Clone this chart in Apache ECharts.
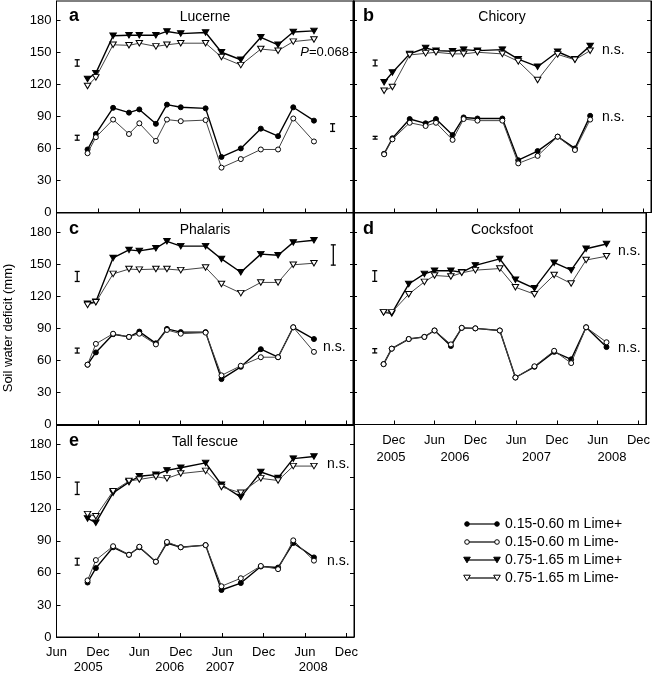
<!DOCTYPE html>
<html><head><meta charset="utf-8">
<script src="https://cdn.jsdelivr.net/npm/echarts@6/dist/echarts.min.js"></script>
<style>html,body{margin:0;padding:0;background:#fff}#c{width:653px;height:674px}</style>
</head><body><div id="c"></div>
<script>
const FONT = '"Liberation Sans", Arial, Helvetica, sans-serif';
// sampling dates, in months after 1 June 2005
const dates = [4.5, 5.7, 8.2, 10.5, 12.0, 14.4, 16.0, 18.0, 21.6, 23.9, 26.7, 29.6, 32.1, 34.3, 37.3];
const seriesNames = ['0.15-0.60 m Lime+', '0.15-0.60 m Lime-', '0.75-1.65 m Lime+', '0.75-1.65 m Lime-'];
const panelNames = ['Lucerne', 'Chicory', 'Phalaris', 'Cocksfoot', 'Tall fescue'];
const panelLetters = ['a', 'b', 'c', 'd', 'e'];

const lucerneShallowPlus  = [59, 73.5, 98, 93.5, 96.5, 83, 101, 98.5, 97.5, 52, 60, 78.5, 71.5, 98.5, 86];
const lucerneShallowMinus = [55.5, 70.5, 87, 73.5, 83.5, 67, 87, 85.5, 86.5, 42, 50, 59, 59, 88, 66.5];
const lucerneDeepPlus     = [125, 130.5, 165.5, 166, 166, 166, 169.5, 167.5, 168.5, 150, 143, 164, 157, 169, 170];
const lucerneDeepMinus    = [118.5, 126.5, 157, 156.5, 158.5, 155.5, 157, 158.5, 158.5, 145.5, 138, 153, 151.5, 160, 162];

const chicoryShallowPlus  = [55, 69.5, 87.5, 83.5, 87.5, 72.5, 89, 88, 88, 49, 57.5, 71, 60, 90.5];
const chicoryShallowMinus = [54.5, 68.5, 84, 81, 84, 68, 87.5, 86, 86, 46, 53, 71, 58.5, 87];
const chicoryDeepPlus     = [122, 131, 148.5, 154, 151.5, 151, 152.5, 151.5, 152.5, 143.5, 136.5, 150.5, 143.5, 156];
const chicoryDeepMinus    = [114, 117.5, 147.5, 149, 150, 148.5, 148.5, 150, 148.5, 141.5, 124, 148, 143, 151.5];

const phalarisShallowPlus  = [56, 67.5, 84.5, 82, 87, 76, 89.5, 86.5, 86.5, 42.5, 54, 70.5, 63, 91, 80];
const phalarisShallowMinus = [56, 75.5, 85, 82, 85, 75, 88.5, 85, 86, 46, 55, 63, 63, 91, 68];
const phalarisDeepPlus     = [113, 115, 156, 163.5, 162.5, 165, 171.5, 167, 167, 155, 142.5, 159.5, 158.5, 170.5, 172.5];
const phalarisDeepMinus    = [112, 114.5, 141, 145.5, 145, 145.5, 145.5, 144.5, 147, 131.5, 123, 133, 133, 149.5, 151];

const cocksfootShallowPlus  = [56.5, 71, 80, 82, 88, 73.5, 90.5, 90, 88, 44, 54, 68, 61, 91, 72.5];
const cocksfootShallowMinus = [56.5, 71, 80, 82, 88, 75, 90.5, 90, 88, 44, 54.5, 69, 57.5, 91, 77];
const cocksfootDeepPlus     = [105, 104, 131.5, 141, 144, 144, 142.5, 149, 155, 135.5, 127.5, 151.5, 144.5, 164.5, 169];
const cocksfootDeepMinus    = [105, 105, 122, 133.5, 139.5, 138.5, 142, 144.5, 146, 128.5, 122, 140, 132, 154, 157.5];

const fescueShallowPlus  = [51, 64.5, 84, 77, 84, 70.5, 88, 84, 86, 44, 50.5, 66, 65, 88, 74.5];
const fescueShallowMinus = [53, 72, 85, 77, 84.5, 70.5, 89, 84, 86, 47.5, 55, 66.5, 63.5, 90.5, 71.5];
const fescueDeepPlus     = [111, 107, 135, 145, 150.5, 152, 156, 158.5, 163, 142.5, 131, 154.5, 149, 167, 169];
const fescueDeepMinus    = [115, 113, 136.5, 146, 147.5, 150, 148.5, 153, 155.5, 140.5, 135, 148.5, 146.5, 160, 160];

// LSD bars: [month, centre, half-length]
const lucerneLSD   = [[3.0, 140, 3], [3.0, 70, 2.3], [40.0, 79.5, 3.6]];
const chicoryLSD   = [[3.2, 140, 2.7], [3.2, 70, 1.3]];
const phalarisLSD  = [[3.0, 138.6, 4.7], [3.0, 69.2, 2.3], [40.1, 158.7, 9.5]];
const cocksfootLSD = [[3.2, 139, 5], [3.2, 69, 2]];
const fescueLSD    = [[3.0, 139.2, 5.8], [3.0, 70.5, 3.2]];

const tickMonths = [0, 6, 12, 18, 24, 30, 36, 42];
const tickLabels = ['Jun', 'Dec', 'Jun', 'Dec', 'Jun', 'Dec', 'Jun', 'Dec'];
const yTicks = [0, 30, 60, 90, 120, 150, 180];
const yearLabels = ['2005', '2006', '2007', '2008'];
const yearPosD = [5.6, 15.0, 27.0, 38.1];
const yearPosE = [4.6, 16.4, 23.7, 37.2];

const panelData = [
  [lucerneShallowPlus, lucerneShallowMinus, lucerneDeepPlus, lucerneDeepMinus],
  [chicoryShallowPlus, chicoryShallowMinus, chicoryDeepPlus, chicoryDeepMinus],
  [phalarisShallowPlus, phalarisShallowMinus, phalarisDeepPlus, phalarisDeepMinus],
  [cocksfootShallowPlus, cocksfootShallowMinus, cocksfootDeepPlus, cocksfootDeepMinus],
  [fescueShallowPlus, fescueShallowMinus, fescueDeepPlus, fescueDeepMinus]
];
const panelLSD = [lucerneLSD, chicoryLSD, phalarisLSD, cocksfootLSD, fescueLSD];

const XMAX = 43.1, YMAX = 198;
const grids = [
  {left: 56.5, top: 1, width: 297.5, height: 211.5},
  {left: 353, top: 1, width: 298, height: 211.5},
  {left: 56.5, top: 213, width: 297.5, height: 211.5},
  {left: 353, top: 213, width: 298, height: 211.5},
  {left: 56.5, top: 425.5, width: 297.5, height: 211.5}
].map(g => Object.assign({show: true, borderColor: '#000', borderWidth: 1, backgroundColor: 'transparent'}, g));

function nearestIdx(arr, v) { let b = 0; arr.forEach((a, i) => { if (Math.abs(a - v) < Math.abs(arr[b] - v)) b = i; }); return b; }

const xAxis = [], yAxis = [], series = [];
for (let i = 0; i < 5; i++) {
  const showX = (i >= 3);
  xAxis.push({
    gridIndex: i, type: 'value', min: 0, max: XMAX,
    axisLine: {show: true, onZero: false, lineStyle: {color: '#000', width: 1}},
    axisTick: {show: true, inside: true, length: 4, customValues: tickMonths, lineStyle: {color: '#000'}},
    axisLabel: {show: showX, customValues: i === 3 ? tickMonths.slice(1) : tickMonths, margin: 9,
      fontFamily: FONT, fontSize: 13, color: '#000', showMinLabel: true, showMaxLabel: true,
      formatter: v => tickLabels[nearestIdx(tickMonths, v)]},
    splitLine: {show: false}
  });
}
for (let i = 0; i < 5; i++) {
  yAxis.push({
    gridIndex: i, type: 'value', min: 0, max: YMAX, position: 'left',
    axisLine: {show: true, onZero: false, lineStyle: {color: '#000'}},
    axisTick: {show: true, inside: true, length: 4, customValues: yTicks, lineStyle: {color: '#000'}},
    axisLabel: {show: (i % 2 === 0), customValues: yTicks, margin: 5, fontFamily: FONT, fontSize: 13, color: '#000'},
    splitLine: {show: false}
  });
}
for (let i = 0; i < 5; i++) {
  yAxis.push({
    gridIndex: i, type: 'value', min: 0, max: YMAX, position: 'right',
    axisLine: {show: true, onZero: false, lineStyle: {color: '#000'}},
    axisTick: {show: true, inside: true, length: 4, customValues: yTicks, lineStyle: {color: '#000'}},
    axisLabel: {show: false}, splitLine: {show: false}
  });
}
// year label axes
[[3, yearPosD, 17], [4, yearPosE, 15]].forEach(([gi, pos, off]) => {
  xAxis.push({
    gridIndex: gi, type: 'value', min: 0, max: XMAX, position: 'bottom', offset: off,
    axisLine: {show: false}, axisTick: {show: false}, splitLine: {show: false},
    axisLabel: {show: true, customValues: pos, margin: 9, fontFamily: FONT, fontSize: 13, color: '#000',
      formatter: v => yearLabels[nearestIdx(pos, v)]}
  });
});

const styles = [
  {symbol: 'circle', symbolSize: 5, symbolRotate: 0, fill: '#000', lw: 1.4, lc: '#000', z: 3},
  {symbol: 'circle', symbolSize: 5, symbolRotate: 0, fill: '#fff', lw: 1, lc: '#444', z: 4},
  {symbol: 'triangle', symbolSize: [6.5, 5.5], symbolRotate: 180, fill: '#000', lw: 1.4, lc: '#000', z: 3},
  {symbol: 'triangle', symbolSize: [6.5, 5.5], symbolRotate: 180, fill: '#fff', lw: 1, lc: '#444', z: 4}
];

for (let i = 0; i < 5; i++) {
  panelData[i].forEach((vals, s) => {
    const st = styles[s];
    series.push({
      type: 'line', name: seriesNames[s], xAxisIndex: i, yAxisIndex: i,
      data: vals.map((v, k) => [dates[k], v]),
      symbol: st.symbol, symbolSize: st.symbolSize, symbolRotate: st.symbolRotate, showAllSymbol: true,
      itemStyle: {color: st.fill, borderColor: '#000', borderWidth: 1},
      lineStyle: {color: st.lc, width: st.lw}, z: st.z, silent: true
    });
  });
  series.push({
    type: 'custom', xAxisIndex: i, yAxisIndex: i, data: panelLSD[i], z: 5, silent: true,
    renderItem: (params, api) => {
      const x = api.value(0), c = api.value(1), h = api.value(2);
      const t = api.coord([x, c + h]), b = api.coord([x, c - h]);
      const w = 2.5, ls = {stroke: '#000', lineWidth: 1.3};
      return {type: 'group', children: [
        {type: 'line', shape: {x1: t[0], y1: t[1], x2: b[0], y2: b[1]}, style: ls},
        {type: 'line', shape: {x1: t[0] - w, y1: t[1], x2: t[0] + w, y2: t[1]}, style: ls},
        {type: 'line', shape: {x1: b[0] - w, y1: b[1], x2: b[0] + w, y2: b[1]}, style: ls}
      ]};
    }
  });
}

const graphic = [];
const letterPos = [[69, 16], [363, 16], [69, 229], [363, 229], [69, 441]];
const titlePos = [[205, 17], [502, 17], [205, 230], [502, 230], [205, 442]];
for (let i = 0; i < 5; i++) {
  graphic.push({type: 'text', x: letterPos[i][0], y: letterPos[i][1], z: 10,
    style: {text: panelLetters[i], font: 'bold 18px ' + FONT, fill: '#000', textAlign: 'left', textVerticalAlign: 'middle'}});
  graphic.push({type: 'text', x: titlePos[i][0], y: titlePos[i][1], z: 10,
    style: {text: panelNames[i], font: '14px ' + FONT, fill: '#000', textAlign: 'center', textVerticalAlign: 'middle'}});
}
const nsPos = [[602, 50], [602, 117], [323, 347], [618, 251], [618, 348], [327, 464], [327, 561]];
nsPos.forEach(p => graphic.push({type: 'text', x: p[0], y: p[1], z: 10,
  style: {text: 'n.s.', font: '14px ' + FONT, fill: '#000', textAlign: 'left', textVerticalAlign: 'middle'}}));
graphic.push({type: 'text', x: 349, y: 52, z: 10,
  style: {text: '{i|P}=0.068', font: '13px ' + FONT, fill: '#000', align: 'right', verticalAlign: 'middle',
    rich: {i: {fontStyle: 'italic', fontSize: 13, fontFamily: FONT}}}});
graphic.push({type: 'text', x: 8, y: 328, rotation: Math.PI / 2, z: 10,
  style: {text: 'Soil water deficit (mm)', font: '13px ' + FONT, fill: '#000', textAlign: 'center', textVerticalAlign: 'middle'}});

// legend
const legRows = [524, 542, 560, 578];
seriesNames.forEach((name, s) => {
  const y = legRows[s], st = styles[s];
  graphic.push({type: 'line', shape: {x1: 467, y1: y, x2: 497, y2: y}, style: {stroke: '#000', lineWidth: 1.2}, z: 10});
  [467, 497].forEach(x => {
    if (st.symbol === 'circle') {
      graphic.push({type: 'circle', shape: {cx: x, cy: y, r: 2.3}, style: {fill: st.fill, stroke: '#000', lineWidth: 1}, z: 11});
    } else {
      graphic.push({type: 'polygon', shape: {points: [[x - 3.3, y - 2.8], [x + 3.3, y - 2.8], [x, y + 2.8]]}, style: {fill: st.fill, stroke: '#000', lineWidth: 1}, z: 11});
    }
  });
  graphic.push({type: 'text', x: 505, y: y, z: 10,
    style: {text: name, font: '14px ' + FONT, fill: '#000', textAlign: 'left', textVerticalAlign: 'middle'}});
});

const chart = echarts.init(document.getElementById('c'), null, {renderer: 'canvas'});
chart.setOption({
  animation: false, backgroundColor: '#fff',
  grid: grids, xAxis: xAxis, yAxis: yAxis, series: series, graphic: graphic
});
</script></body></html>
